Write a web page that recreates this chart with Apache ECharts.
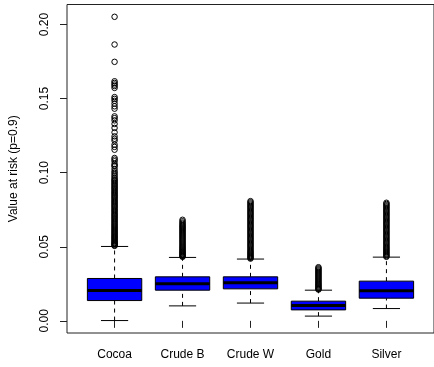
<!DOCTYPE html>
<html>
<head>
<meta charset="utf-8">
<script src="https://cdn.jsdelivr.net/npm/echarts@6/dist/echarts.min.js"></script>
<style>
html,body{margin:0;padding:0;background:#fff;}
#chart{width:434px;height:367px;}
</style>
</head>
<body>
<div id="chart"></div>
<script>
const categories = ['Cocoa', 'Crude B', 'Crude W', 'Gold', 'Silver'];
const lowerWhisker = [0.0002, 0.0101, 0.0120, 0.0032, 0.0083];
const q1Values     = [0.0137, 0.0207, 0.0216, 0.0074, 0.0153];
const medianValues = [0.0205, 0.0250, 0.0257, 0.0103, 0.0203];
const q3Values     = [0.0286, 0.0297, 0.0297, 0.0133, 0.0268];
const upperWhisker = [0.0502, 0.0428, 0.0417, 0.0207, 0.0430];
const yTicks = [0, 0.05, 0.10, 0.15, 0.20];

const cocoaOutliers = [0.2052, 0.1865, 0.1748, 0.1617, 0.1606, 0.1595, 0.1585, 0.1572, 0.1510, 0.1498, 0.1485, 0.1466, 0.1448, 0.1432, 0.1380, 0.1368, 0.1353, 0.1329, 0.1302, 0.1272, 0.1245, 0.1229, 0.1216, 0.1189, 0.1174, 0.1155, 0.1099, 0.1088, 0.1077, 0.1059, 0.1049, 0.1043, 0.1025, 0.1009, 0.0998, 0.0986, 0.0975, 0.0964,
  0.0955, 0.0948, 0.0941, 0.0933, 0.0925, 0.0918, 0.0910, 0.0902, 0.0895, 0.0888, 0.0880, 0.0872, 0.0865, 0.0858, 0.0850, 0.0843, 0.0835, 0.0828, 0.0820, 0.0812, 0.0805, 0.0798, 0.0790, 0.0783, 0.0775, 0.0768, 0.0760, 0.0752, 0.0745, 0.0738, 0.0730, 0.0722, 0.0715, 0.0708, 0.0700, 0.0693, 0.0686, 0.0678, 0.0671, 0.0664, 0.0656, 0.0649, 0.0642, 0.0635, 0.0628, 0.0621, 0.0614, 0.0607, 0.0600, 0.0593, 0.0586, 0.0579, 0.0572, 0.0566, 0.0560, 0.0554, 0.0548, 0.0542, 0.0536, 0.0530, 0.0525, 0.0520, 0.0515, 0.0510, 0.0506];
const crudeBOutliers = [0.0682, 0.0672, 0.0663, 0.0655, 0.0647, 0.0640, 0.0633, 0.0626, 0.0619, 0.0612, 0.0605, 0.0598, 0.0591, 0.0584, 0.0577, 0.0570, 0.0563, 0.0556, 0.0549, 0.0542, 0.0535, 0.0528, 0.0521, 0.0514, 0.0507, 0.0500, 0.0494, 0.0488, 0.0482, 0.0476, 0.0470, 0.0465, 0.0460, 0.0455, 0.0450, 0.0445, 0.0440, 0.0436, 0.0432];
const crudeWOutliers = [0.0808, 0.0800, 0.0792, 0.0784, 0.0776, 0.0768, 0.0760, 0.0752, 0.0744, 0.0736, 0.0728, 0.0720, 0.0712, 0.0704, 0.0696, 0.0688, 0.0680, 0.0672, 0.0664, 0.0656, 0.0648, 0.0640, 0.0632, 0.0624, 0.0616, 0.0608, 0.0600, 0.0592, 0.0584, 0.0576, 0.0568, 0.0560, 0.0552, 0.0544, 0.0536, 0.0528, 0.0520, 0.0512, 0.0504, 0.0496, 0.0488, 0.0480, 0.0472, 0.0465, 0.0458, 0.0451, 0.0444, 0.0437, 0.0431, 0.0425, 0.0420];
const goldOutliers = [0.0362, 0.0355, 0.0348, 0.0341, 0.0334, 0.0327, 0.0320, 0.0313, 0.0306, 0.0299, 0.0292, 0.0285, 0.0278, 0.0271, 0.0264, 0.0257, 0.0250, 0.0244, 0.0238, 0.0232, 0.0226, 0.0220, 0.0215, 0.0211];
const silverOutliers = [0.0797, 0.0789, 0.0781, 0.0773, 0.0765, 0.0757, 0.0749, 0.0741, 0.0733, 0.0725, 0.0717, 0.0709, 0.0701, 0.0693, 0.0685, 0.0677, 0.0669, 0.0661, 0.0653, 0.0645, 0.0637, 0.0629, 0.0621, 0.0613, 0.0605, 0.0597, 0.0589, 0.0581, 0.0573, 0.0565, 0.0557, 0.0549, 0.0541, 0.0533, 0.0525, 0.0517, 0.0509, 0.0501, 0.0494, 0.0487, 0.0480, 0.0473, 0.0466, 0.0459, 0.0452, 0.0445, 0.0438, 0.0432];
const outlierLists = [cocoaOutliers, crudeBOutliers, crudeWOutliers, goldOutliers, silverOutliers];

const FONT = 'Liberation Sans, Arial, Helvetica, sans-serif';
const boxData = categories.map((c, i) => [i + 1, lowerWhisker[i], q1Values[i], medianValues[i], q3Values[i], upperWhisker[i]]);
const outlierData = [];
outlierLists.forEach((list, i) => list.forEach(v => outlierData.push([i + 1, v])));

function renderBox(params, api) {
  const x = api.value(0);
  const pLo = api.coord([x, api.value(1)]);
  const pQ1 = api.coord([x, api.value(2)]);
  const pMed = api.coord([x, api.value(3)]);
  const pQ3 = api.coord([x, api.value(4)]);
  const pHi = api.coord([x, api.value(5)]);
  const bw = api.size([0.8, 0])[0];
  const half = bw / 2;
  const staple = bw / 4;
  const cx = pMed[0];
  const lineStyle = { stroke: '#000', lineWidth: 1, fill: null };
  return {
    type: 'group',
    children: [
      { type: 'line', shape: { x1: cx, y1: pQ3[1], x2: cx, y2: pHi[1] }, style: Object.assign({ lineDash: [4, 4] }, lineStyle) },
      { type: 'line', shape: { x1: cx, y1: pLo[1], x2: cx, y2: pQ1[1] }, style: Object.assign({ lineDash: [4, 4] }, lineStyle) },
      { type: 'line', shape: { x1: cx - staple, y1: pHi[1], x2: cx + staple, y2: pHi[1] }, style: lineStyle },
      { type: 'line', shape: { x1: cx - staple, y1: pLo[1], x2: cx + staple, y2: pLo[1] }, style: lineStyle },
      { type: 'rect', shape: { x: cx - half, y: pQ3[1], width: bw, height: pQ1[1] - pQ3[1] }, style: { fill: '#0000ff', stroke: '#000', lineWidth: 1 } },
      { type: 'line', shape: { x1: cx - half, y1: pMed[1], x2: cx + half, y2: pMed[1] }, style: { stroke: '#000', lineWidth: 3 } }
    ]
  };
}

const chart = echarts.init(document.getElementById('chart'), null, { renderer: 'canvas' });
chart.setOption({
  animation: false,
  backgroundColor: '#ffffff',
  grid: { left: 65.5, top: 4.5, width: 372, height: 328.5, show: true, borderColor: '#222', borderWidth: 1, backgroundColor: 'transparent' },
  xAxis: {
    type: 'value', min: 0.3, max: 5.7,
    splitLine: { show: false },
    axisLine: { show: false },
    axisTick: { show: true, length: 7, customValues: [1, 2, 3, 4, 5], lineStyle: { color: '#222' } },
    axisLabel: { customValues: [1, 2, 3, 4, 5], formatter: v => categories[Math.round(v) - 1] || '', fontSize: 12, color: '#000', fontFamily: FONT, margin: 16 }
  },
  yAxis: {
    type: 'value', min: -0.0082, max: 0.2135,
    name: 'Value at risk (p=0.9)', nameLocation: 'middle', nameGap: 47, nameRotate: 90,
    nameTextStyle: { fontSize: 12, color: '#000', fontFamily: FONT },
    splitLine: { show: false },
    axisLine: { show: false },
    axisTick: { show: true, length: 7, customValues: yTicks, lineStyle: { color: '#222' } },
    axisLabel: { customValues: yTicks, rotate: 90, formatter: v => v.toFixed(2), fontSize: 12, color: '#000', fontFamily: FONT, margin: 16 }
  },
  series: [
    { type: 'custom', renderItem: renderBox, data: boxData, encode: { x: 0, y: [1, 2, 3, 4, 5] }, z: 2 },
    { type: 'scatter', data: outlierData, symbol: 'circle', symbolSize: 5.5, itemStyle: { color: 'rgba(0,0,0,0)', borderColor: '#000', borderWidth: 1, opacity: 1 }, z: 3 }
  ]
});
</script>
</body>
</html>
